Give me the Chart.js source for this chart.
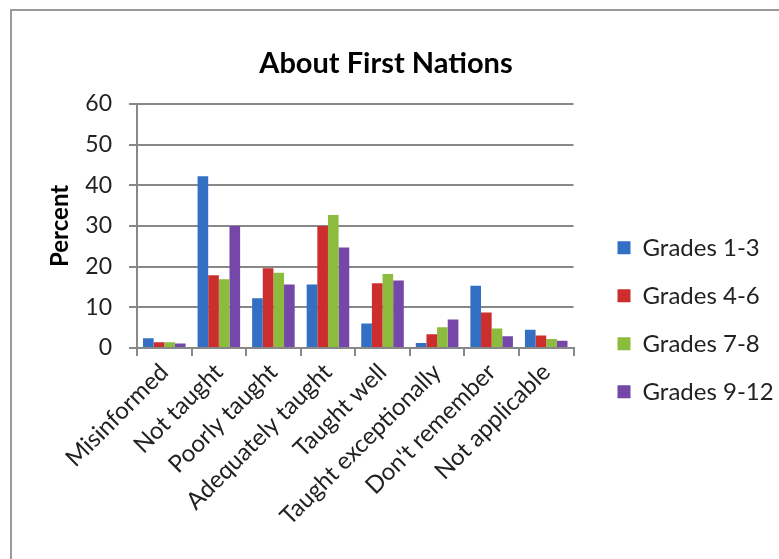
<!DOCTYPE html>
<html><head><meta charset="utf-8">
<script src="https://cdn.jsdelivr.net/npm/chart.js@4/dist/chart.umd.min.js"></script>
<style>html,body{margin:0;padding:0;background:#fff}#wrap{width:779px;height:559px;position:relative}</style>
</head><body><div id="wrap"><canvas id="c" width="779" height="559"></canvas></div>
<script>
const chartTitle = 'About First Nations';
const yAxisTitle = 'Percent';
const categories = ['Misinformed', 'Not taught', 'Poorly taught', 'Adequately taught', 'Taught well', 'Taught exceptionally', "Don't remember", 'Not applicable'];
const seriesNames = ['Grades 1-3', 'Grades 4-6', 'Grades 7-8', 'Grades 9-12'];
const grades1to3 = [2.4, 42.2, 12.2, 15.6, 6.0, 1.2, 15.3, 4.5];
const grades4to6 = [1.4, 17.9, 19.6, 30.0, 15.9, 3.4, 8.7, 3.1];
const grades7to8 = [1.4, 16.9, 18.5, 32.7, 18.2, 5.1, 4.8, 2.2];
const grades9to12 = [1.1, 30.0, 15.6, 24.7, 16.6, 7.0, 2.9, 1.8];
const yTicks = [0, 10, 20, 30, 40, 50, 60];
const seriesColors = ['#3370C4', '#CC2E2E', '#8DBB3D', '#7447A8'];

const FONT = 'Lato, "Open Sans", sans-serif';
const allSeries = [grades1to3, grades4to6, grades7to8, grades9to12];

const frame = {
  id: 'frame',
  beforeDraw(chart) {
    const ctx = chart.ctx;
    ctx.save();
    ctx.fillStyle = '#fff';
    ctx.fillRect(0, 0, chart.width, chart.height);
    ctx.strokeStyle = '#9a9a9a';
    ctx.lineWidth = 2;
    ctx.beginPath();
    ctx.moveTo(11, chart.height);
    ctx.lineTo(11, 10);
    ctx.lineTo(chart.width, 10);
    ctx.stroke();
    ctx.restore();
  }
};

const legendPlace = {
  id: 'legendPlace',
  afterLayout(chart) {
    const lg = chart.legend;
    const pad = lg.options.labels.padding;
    const dx = chart.chartArea.right + 44 - pad - lg.left;
    lg.left += dx; lg.right += dx;
    const dy = chart.chartArea.top + 108 - lg.top;
    lg.top += dy; lg.bottom += dy;
  }
};

new Chart(document.getElementById('c'), {
  type: 'bar',
  data: {
    labels: categories,
    datasets: seriesNames.map((name, i) => ({
      label: name,
      data: allSeries[i],
      backgroundColor: seriesColors[i],
      borderWidth: 0,
      categoryPercentage: 0.78,
      barPercentage: 1.0
    }))
  },
  options: {
    responsive: false,
    animation: false,
    devicePixelRatio: 1,
    layout: { padding: { left: 11, top: 10, right: 18, bottom: 0 } },
    plugins: {
      title: {
        display: true,
        text: chartTitle,
        color: '#000',
        font: { family: FONT, size: 29, weight: 'bold' },
        padding: { top: 36, bottom: 23 }
      },
      legend: {
        position: 'right',
        align: 'start',
        labels: {
          boxWidth: 13,
          boxHeight: 13,
          padding: 24,
          color: '#222',
          font: { family: FONT, size: 24 }
        }
      },
      tooltip: { enabled: false }
    },
    scales: {
      x: {
        grid: { display: true, drawOnChartArea: false, drawTicks: true, tickLength: 8, color: '#888', lineWidth: 2, offset: true },
        border: { color: '#888', width: 2 },
        ticks: { maxRotation: 45, minRotation: 45, color: '#222', font: { family: FONT, size: 24 }, padding: 2 },
        afterFit(s) { s.height = 211; }
      },
      y: {
        min: 0,
        max: 60,
        afterBuildTicks(s) { s.ticks = yTicks.map(v => ({ value: v })); },
        grid: { color: '#888', lineWidth: 2, tickLength: 8 },
        border: { color: '#888', width: 2 },
        ticks: { color: '#222', padding: 17, font: { family: FONT, size: 23 } },
        title: { display: true, text: yAxisTitle, color: '#000', font: { family: FONT, size: 24, weight: 'bold' }, padding: { top: 35, bottom: 0 } },
        afterFit(s) { s.width = 126; }
      }
    }
  },
  plugins: [frame, legendPlace]
});
</script>
</body></html>
